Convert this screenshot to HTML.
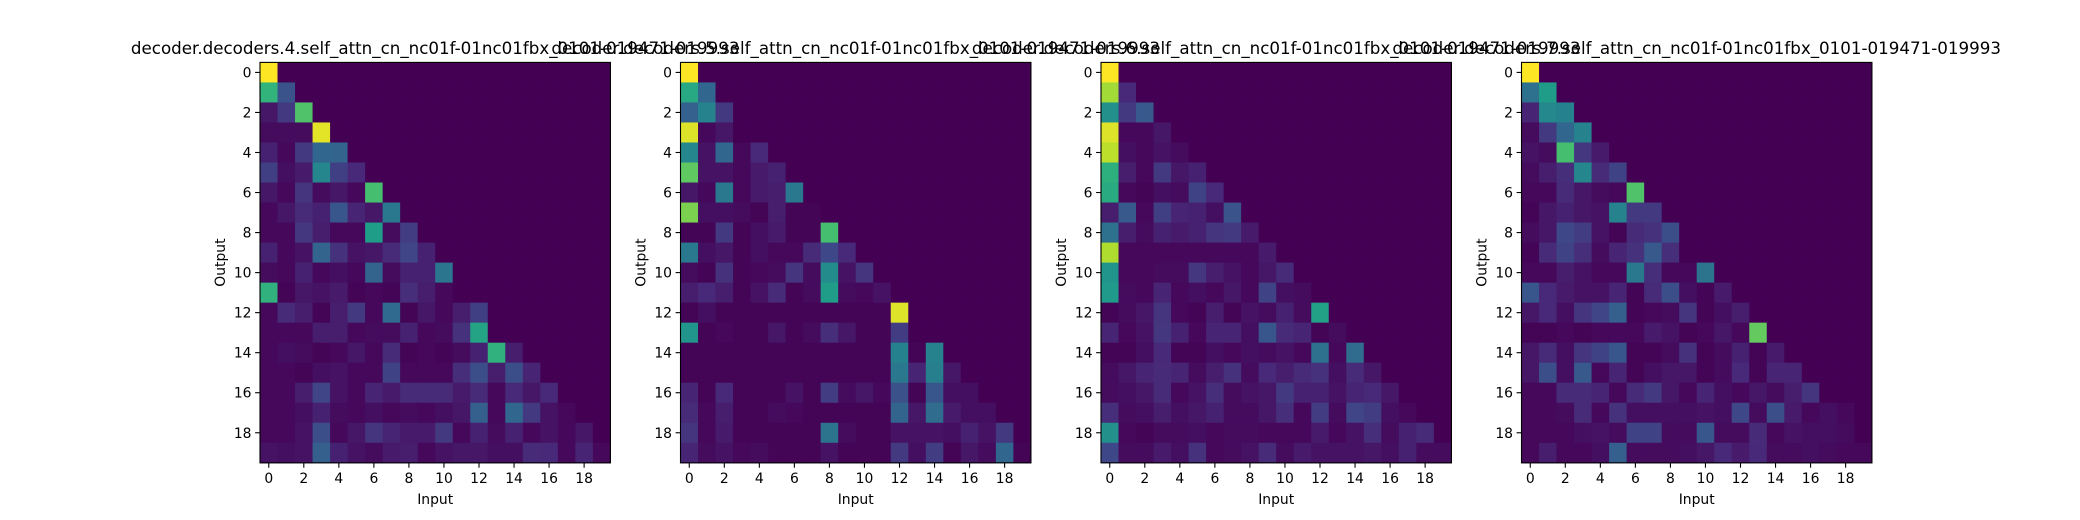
<!DOCTYPE html>
<html><head><meta charset="utf-8"><style>
html,body{margin:0;padding:0;background:#fff;}
svg{display:block;font-family:"DejaVu Sans","Liberation Sans",sans-serif;}
</style></head><body>
<svg id="fig" width="2080" height="520" viewBox="0 0 2080 520" xmlns="http://www.w3.org/2000/svg"></svg>
<script>
const tickLabels = [0,2,4,6,8,10,12,14,16,18];
const panelTitles = [
"decoder.decoders.4.self_attn_cn_nc01f-01nc01fbx_0101-019471-019993",
"decoder.decoders.5.self_attn_cn_nc01f-01nc01fbx_0101-019471-019993",
"decoder.decoders.6.self_attn_cn_nc01f-01nc01fbx_0101-019471-019993",
"decoder.decoders.7.self_attn_cn_nc01f-01nc01fbx_0101-019471-019993"];
const attn1 = [
[100],[65,26],[6,17,72],[3,3,3,96],[9,2,17,33,32],[19,4,7,46,19,11],[6,2,15,3,6,2,70],
[2,6,12,9,27,10,6,40],[2,2,16,8,2,2,55,3,18],[9,2,5,32,14,5,6,12,21,9],
[3,2,9,2,4,2,32,3,9,9,39],[64,1,6,5,7,1,2,1,13,8,2,0],[2,12,8,1,8,17,2,34,1,6,2,8,19],
[2,2,2,8,8,2,3,3,9,2,3,14,58],[2,4,3,1,2,6,2,12,1,2,1,3,9,64,8],
[2,2,1,4,5,2,2,20,2,2,2,13,24,8,24,10],[2,2,8,21,5,2,10,7,12,12,12,7,12,2,11,6,11],
[2,2,4,9,3,2,4,2,3,2,4,6,30,2,33,17,5,2],[2,2,5,24,2,6,15,10,7,7,17,2,9,3,9,2,5,2,6],
[5,4,5,30,9,5,3,7,8,2,5,6,6,4,4,12,11,2,10,2]];
const attn2 = [
[100],[60,33],[31,45,17],[95,2,6],[46,5,33,2,11],[75,5,5,2,7,9],[6,2,40,2,7,8,40],
[80,4,4,3,1,8,1,1],[1,1,17,1,4,7,1,1,70],[40,4,6,1,4,2,2,12,22,11],
[3,1,14,1,2,3,15,3,48,5,15],[8,11,8,1,5,12,1,3,55,3,2,5],[1,4,1,1,1,1,1,1,1,1,1,1,95],
[52,1,2,1,1,6,1,3,13,6,1,1,18],[1,1,1,1,1,1,1,1,1,1,1,1,44,1,45],
[1,1,1,1,1,1,1,1,1,1,1,1,40,10,43,6],[10,1,11,1,1,1,5,1,18,3,6,2,25,1,27,4,4],
[12,2,8,1,1,3,2,1,1,1,1,1,32,6,35,7,4,4],[15,2,7,1,1,1,1,1,38,3,1,1,5,5,5,4,9,5,17],
[10,3,5,2,3,1,1,1,5,1,1,1,17,4,18,1,6,3,33,1]];
const attn3 = [
[100],[86,11],[50,17,28],[95,2,2,6],[90,4,2,5,3],[63,8,2,17,6,9],[61,2,1,4,3,20,11],
[8,28,2,19,10,9,4,26],[37,8,3,9,7,9,15,17,7],[88,2,2,2,2,2,2,2,2,7],
[52,2,2,3,3,16,8,5,2,6,12],[54,3,2,10,2,4,2,6,2,20,4,3],[1,3,6,15,2,1,8,1,5,3,9,3,57],
[10,2,5,16,9,2,10,10,4,27,12,10,1,3],[1,1,4,11,1,1,4,2,4,3,5,2,37,2,35],
[3,6,10,12,10,3,8,14,3,11,8,12,14,4,12,6],[3,4,6,12,2,5,13,3,5,6,17,9,9,5,10,11,6],
[13,3,4,8,4,6,9,3,3,6,13,2,18,3,21,18,4,2],[50,2,1,3,3,4,2,3,3,2,2,2,7,2,5,13,3,9,12],
[22,3,3,7,4,14,2,3,5,12,3,7,5,5,5,6,4,9,3,3]];
const attn4 = [
[100],[37,55],[10,47,44],[3,17,33,45],[5,3,70,16,7],[3,8,13,46,12,20],[2,2,12,6,3,2,72],
[1,6,9,6,5,45,17,17],[3,6,22,18,5,1,12,14,24],[1,12,20,13,3,10,14,28,13],
[2,2,8,5,2,2,40,13,2,2,38],[27,11,7,5,5,10,1,12,24,4,1,7],[6,11,4,15,21,30,1,2,3,15,1,4,8],
[1,1,2,1,2,2,2,7,5,1,2,6,2,76],[6,12,4,15,20,27,1,1,3,14,1,3,9,1,7],
[6,24,4,28,2,10,1,4,6,6,1,3,11,1,10,10],[2,2,12,12,10,2,12,17,6,2,10,4,2,6,3,8,15],
[2,2,3,12,2,14,4,4,4,4,5,4,22,3,24,7,2,4,2],[2,2,2,4,5,3,20,20,3,3,27,3,3,12,2,5,4,4,3],
[2,8,2,2,4,30,3,3,3,4,6,11,7,11,3,3,4,3,2,2]];
const panels = [attn1, attn2, attn3, attn4];

const VIR = [[68,1,84],[72,40,120],[62,73,137],[49,104,142],[38,130,142],[31,158,137],[53,183,121],[109,205,89],[180,222,44],[253,231,37]];
function viridis(t){t=Math.max(0,Math.min(1,t));const s=t*(VIR.length-1);const i=Math.min(Math.floor(s),VIR.length-2);const f=s-i;
const c=VIR[i].map((v,k)=>Math.round(v+(VIR[i+1][k]-v)*f));return `rgb(${c[0]},${c[1]},${c[2]})`;}

const NS="http://www.w3.org/2000/svg";
const svg=document.getElementById('fig');
function mk(tag,attrs,parent){const e=document.createElementNS(NS,tag);for(const k in attrs)e.setAttribute(k,attrs[k]);(parent||svg).appendChild(e);return e;}
const N=20, PW=350.4, PH=400.4, PY=62.4;
function px(p){return 260+p*420.5;}
panels.forEach((data,p)=>{
  const x0=px(p);
  const xs=c=>x0+c*PW/N, ys=r=>PY+r*PH/N;
  let mx=0;data.forEach(r=>r.forEach(v=>{if(v>mx)mx=v;}));
  const g=mk('g',{});
  
  
  for(let r=0;r<N;r++)for(let c=0;c<N;c++){
    const v=(data[r]&&data[r][c]!==undefined)?data[r][c]:0;
    const rect=mk('rect',{x:xs(c),y:ys(r),width:PW/N+0.6,height:PH/N+0.6,fill:viridis(v/mx)},g);
    
    
  }
  const fr=mk('rect',{x:x0,y:PY,width:PW,height:PH,fill:'none',stroke:'#000','stroke-width':1.1});
  
  
  tickLabels.forEach(t=>{
    const cx=xs(t+0.5), cy=ys(t+0.5);
    mk('line',{x1:cx,y1:PY+PH,x2:cx,y2:PY+PH+4.9,stroke:'#000','stroke-width':1.1});
    const tx=mk('text',{x:cx,y:PY+PH+20,'font-size':13.9,'text-anchor':'middle',fill:'#000'});
    tx.textContent=t;
    
    
    mk('line',{x1:x0,y1:cy,x2:x0-4.9,y2:cy,stroke:'#000','stroke-width':1.1});
    const ty=mk('text',{x:x0-8.5,y:cy+5,'font-size':13.9,'text-anchor':'end',fill:'#000'});
    ty.textContent=t;
    
    
  });
  const xl=mk('text',{x:x0+PW/2,y:504,'font-size':13.9,'text-anchor':'middle',fill:'#000'});
  xl.textContent='Input';
  
  
  const yl=mk('text',{x:0,y:0,'font-size':13.9,'text-anchor':'middle',fill:'#000',transform:`translate(${x0-35},${PY+PH/2}) rotate(-90)`});
  yl.textContent='Output';
  
  
  const tt=mk('text',{x:x0+PW/2,y:54,'font-size':16.7,'text-anchor':'middle',fill:'#000'});
  tt.textContent=panelTitles[p];
  
  
});
</script>
</body></html>
